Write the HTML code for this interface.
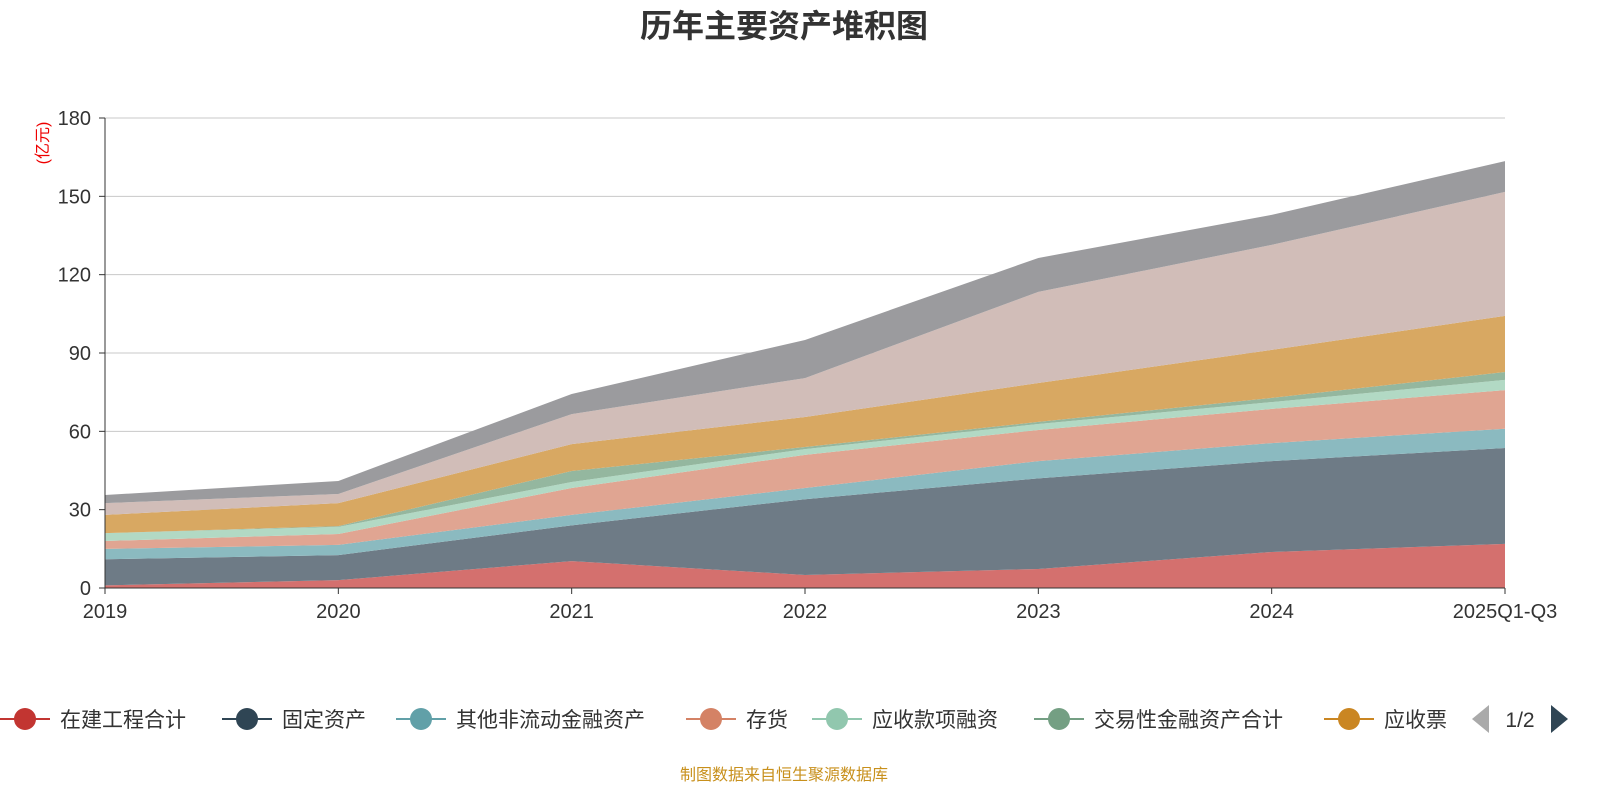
<!DOCTYPE html>
<html><head><meta charset="utf-8"><style>
body{margin:0;background:#fff;width:1600px;height:800px;overflow:hidden;font-family:"Liberation Sans","Noto Sans CJK SC",sans-serif}
</style></head><body>
<svg id="c" width="1600" height="800" xmlns="http://www.w3.org/2000/svg"></svg>
<script>
const categories=["2019","2020","2021","2022","2023","2024","2025Q1-Q3"];
const yTicks=[0,30,60,90,120,150,180];
const seriesNames=["在建工程合计","固定资产","其他非流动金融资产","存货","应收款项融资","交易性金融资产合计","应收票","series-8","series-9"];
const s1=[1,3,10.3,5,7.3,13.8,16.9];
const s2=[10,9.6,13.7,29,34.7,34.8,36.7];
const s3=[4,3.9,4,4.3,6.6,6.9,7.4];
const s4=[3,4.2,10.3,12.7,11.9,13.1,14.8];
const s5=[3,2.7,2.3,2.2,2.3,2.6,3.9];
const s6=[0,0.3,4.2,0.8,0.8,1.6,3];
const s7=[7,8.8,10.3,11.5,14.9,18.4,21.5];
const s8=[4.5,3.5,11.5,14.9,34.9,40.2,47.5];
const s9=[3.1,5,7.7,14.6,13,11.5,11.8];
const series=[s1,s2,s3,s4,s5,s6,s7,s8,s9];
const fills=["#d4706e","#6e7b86","#8bbac0","#e0a592","#b2d9c4","#94b79f","#d8a862","#d1bdb8","#9b9b9e"];
const legendColors=["#c23531","#2f4554","#61a0a8","#d48265","#91c7ae","#749f83","#ca8622"];
const X0=105,X1=1505,Y0=588,Y1=118;
const x=i=>X0+(X1-X0)*i/(categories.length-1);
const y=v=>Y0-(Y0-Y1)*v/180;
const svg=document.getElementById('c');const NS="http://www.w3.org/2000/svg";
function mk(t,a,p){const e=document.createElementNS(NS,t);for(const k in a)e.setAttribute(k,a[k]);(p||svg).appendChild(e);return e;}
let t=mk('text',{x:784,y:37,'text-anchor':'middle','font-size':32,'font-weight':'bold',fill:'#333'});t.textContent="历年主要资产堆积图";


yTicks.forEach(v=>{const l=mk('line',{x1:X0,x2:X1,y1:y(v),y2:y(v),stroke:v?'#c8c8c8':'#333','stroke-width':1});


const tx=mk('text',{x:X0-14,y:y(v)+7,'text-anchor':'end','font-size':20,fill:'#333'});tx.textContent=v;


const tk=mk('line',{x1:X0-6,x2:X0,y1:y(v),y2:y(v),stroke:'#333'});

});
let cum=categories.map(()=>0);
series.forEach((s,si)=>{const lo=cum.slice();cum=cum.map((c,i)=>c+s[i]);
let d=cum.map((v,i)=>(i?'L':'M')+x(i)+','+y(v)).join('');
for(let i=categories.length-1;i>=0;i--)d+='L'+x(i)+','+y(lo[i]);
const p=mk('path',{d:d+'Z',fill:fills[si]});

});
const ax=mk('line',{x1:X0,x2:X0,y1:Y1,y2:Y0,stroke:'#333'});


const xa=mk('line',{x1:X0,x2:X1,y1:Y0,y2:Y0,stroke:'#333'});


categories.forEach((c,i)=>{const tk=mk('line',{x1:x(i),x2:x(i),y1:Y0,y2:Y0+6,stroke:'#333'});


const tx=mk('text',{x:x(i),y:Y0+30,'text-anchor':'middle','font-size':20,fill:'#333'});tx.textContent=c;

});
const yl=mk('text',{x:0,y:0,transform:'translate(48,143) rotate(-90)','text-anchor':'middle','font-size':16,fill:'#e00'});yl.textContent="(亿元)";


const lx=[0,222,396,686,812,1034,1324];
seriesNames.slice(0,7).forEach((n,i)=>{const g=mk('g',{});


mk('line',{x1:lx[i],x2:lx[i]+50,y1:719,y2:719,stroke:legendColors[i],'stroke-width':2},g);
mk('circle',{cx:lx[i]+25,cy:719,r:11,fill:legendColors[i]},g);
const tx=mk('text',{x:lx[i]+60,y:727,'font-size':21,fill:'#333'},g);tx.textContent=n;});
const pl=mk('path',{d:'M1472,719L1489,705L1489,733Z',fill:'#aaa'});


const pt=mk('text',{x:1520,y:727,'text-anchor':'middle','font-size':21,fill:'#333'});pt.textContent="1/2";


const pn=mk('path',{d:'M1551,705L1568,719L1551,733Z',fill:'#2f4554'});


const ft=mk('text',{x:784,y:780,'text-anchor':'middle','font-size':16,fill:'#c8901c'});ft.textContent="制图数据来自恒生聚源数据库";


</script>
</body></html>
